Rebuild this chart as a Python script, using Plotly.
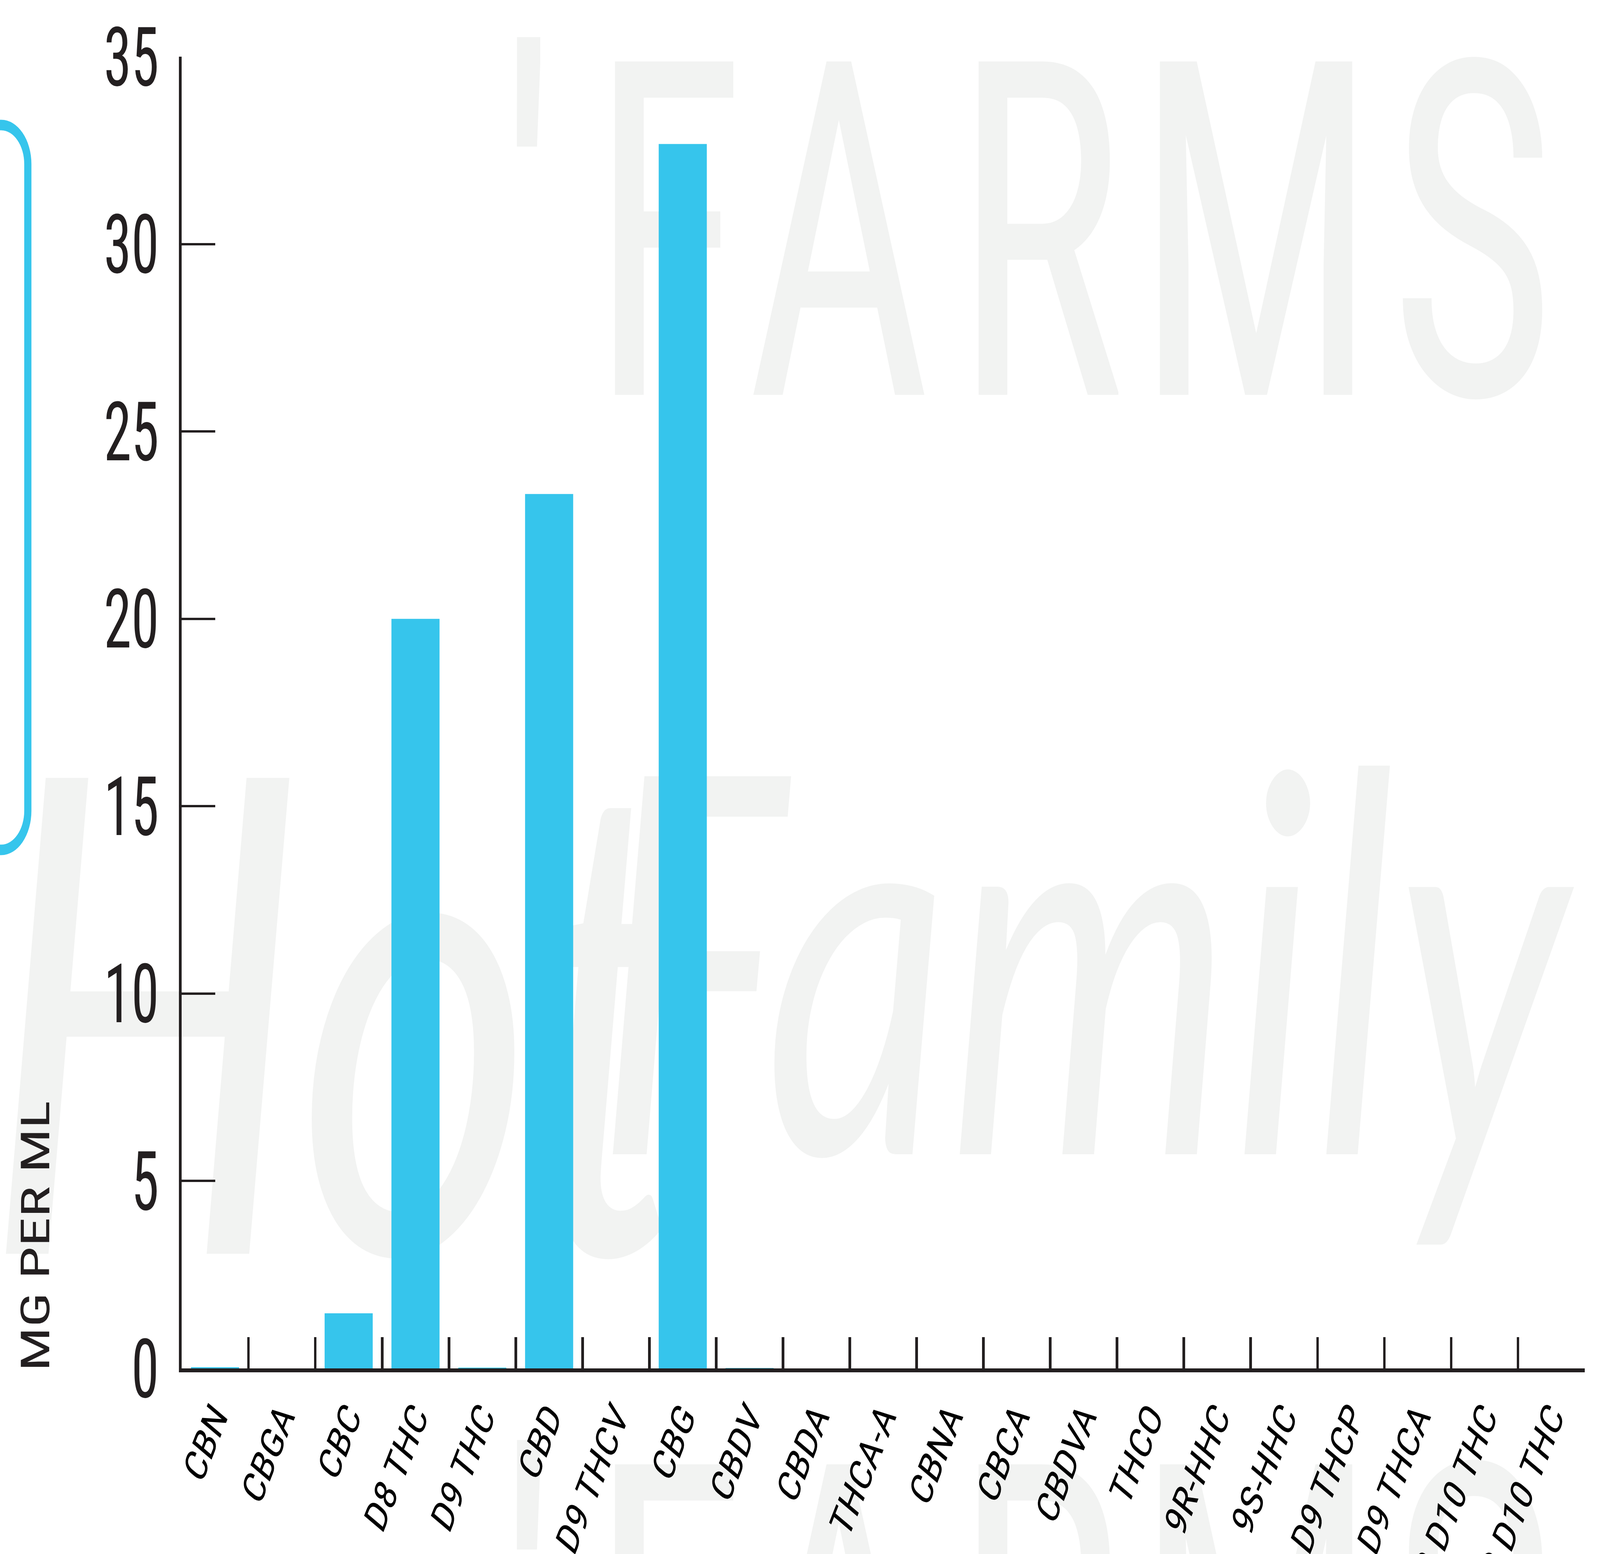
import plotly.graph_objects as go

# ---------------- data ----------------
categories = ["CBN", "CBGA", "CBC", "D8 THC", "D9 THC", "CBD", "D9 THCV", "CBG",
              "CBDV", "CBDA", "THCA-A", "CBNA", "CBCA", "CBDVA", "THCO", "9R-HHC",
              "9S-HHC", "D9 THCP", "D9 THCA", "R D10 THC", "S D10 THC"]
mg_per_ml = [0.03, 0, 1.47, 20.0, 0.012, 23.33, 0, 32.67,
             0.006, 0, 0, 0, 0, 0, 0, 0,
             0, 0, 0, 0, 0]
y_tick_values = [0, 5, 10, 15, 20, 25, 30, 35]
y_title = "MG PER ML"
watermark_top = ["'", "F", "A", "R", "M", "S"]
watermark_script = ["Hot", "Family"]

# ---------------- geometry (pixels of the 6008 x 3977 design) ----------------
W_PX, H_PX = 6008, 3977
L, R, T, B = 682, 5951, 145, 3502
PW, PH = R - L, B - T
S = 6008 / 1568.0  # thumbnail -> full scale


def px(x):
    return (x - L) / PW


def py(y):
    return (B - y) / PH


AXIS = "#231f20"
BLUE = "#36c5ec"
WM = "#f2f3f2"
FONT = ("Roboto Condensed, Liberation Sans Narrow, DejaVu Sans Condensed, "
        "Arial Narrow, Open Sans Condensed, Roboto, sans-serif")

fig = go.Figure()
fig.add_trace(go.Bar(
    x=categories, y=mg_per_ml, width=0.72,
    marker=dict(color=BLUE, line=dict(width=0)),
    hoverinfo="x+y",
))

shapes = []

# watermark letters (top row and bottom row)
letter_cx = [518, 654, 822, 1018, 1231, 1443]
for txt, cx in zip(watermark_top, letter_cx):
    for base in (248, 1185):
        cy = (base - 114) if txt != "'" else (base - 118)
        x0, x1 = cx * S - 300, cx * S + 300
        y0, y1 = cy * S - 300, cy * S + 300
        shapes.append(dict(
            type="rect", xref="paper", yref="paper", layer="below",
            x0=px(x0), x1=px(x1), y0=py(y1), y1=py(y0),
            line=dict(width=0), fillcolor="rgba(0,0,0,0)",
            label=dict(text=txt, textposition="middle center",
                       font=dict(family=FONT, size=1200, color=WM)),
        ))

# script watermark
for txt, (cx, cy), size in zip(watermark_script, [(330, 660), (1060, 630)], [1700, 1350]):
    shapes.append(dict(
        type="rect", xref="paper", yref="paper", layer="below",
        x0=px(cx * S - 400), x1=px(cx * S + 400),
        y0=py(cy * S + 400), y1=py(cy * S - 400),
        line=dict(width=0), fillcolor="rgba(0,0,0,0)",
        label=dict(text=txt, textposition="middle center",
                   font=dict(family="Lato, Open Sans, sans-serif", size=size,
                             color=WM, style="italic")),
    ))

# blue rounded bracket at the left edge
xc, yt, yb, r = 104.5, 320, 2175, 100
path = (f"M {px(-80)},{py(yt)} L {px(xc - r)},{py(yt)} "
        f"C {px(xc - r * 0.45)},{py(yt)} {px(xc)},{py(yt + r * 0.45)} {px(xc)},{py(yt + r)} "
        f"L {px(xc)},{py(yb - r)} "
        f"C {px(xc)},{py(yb - r * 0.45)} {px(xc - r * 0.45)},{py(yb)} {px(xc - r)},{py(yb)} "
        f"L {px(-80)},{py(yb)}")
shapes.append(dict(type="path", xref="paper", yref="paper", layer="above",
                   path=path, line=dict(color=BLUE, width=27)))

fig.update_layout(
    width=W_PX, height=H_PX, autosize=False,
    margin=dict(l=L, r=W_PX - R, t=T, b=H_PX - B, pad=0, autoexpand=False),
    paper_bgcolor="white", plot_bgcolor="rgba(0,0,0,0)",
    showlegend=False,
    shapes=shapes,
    bargap=0.28,
    annotations=[dict(
        text=y_title, xref="paper", yref="paper",
        x=px(134), y=py(3512), xanchor="center", yanchor="bottom",
        textangle=-90, showarrow=False,
        font=dict(family=FONT, size=150, color=AXIS),
    )],
)

fig.update_xaxes(
    type="category", range=[-0.5, len(categories) - 0.5],
    showline=True, linecolor=AXIS, linewidth=10,
    ticks="inside", ticklen=80, tickwidth=10, tickcolor=AXIS,
    tickson="boundaries", tickangle=-60,
    tickfont=dict(family=FONT, size=118, color="black"),
    showgrid=False, zeroline=False, automargin=False, layer="below traces",
)
fig.update_yaxes(
    range=[0, 35], tickmode="array", tickvals=y_tick_values,
    showline=True, linecolor=AXIS, linewidth=10,
    ticks="inside", ticklen=126, tickwidth=6, tickcolor=AXIS,
    tickfont=dict(family=FONT, size=210, color=AXIS),
    ticklabelstandoff=33,
    showgrid=False, zeroline=False, automargin=False, layer="below traces",
)

# The figure is laid out at 6008 x 3977 design pixels and scaled to fill the window.
post = """
var gd = document.getElementById('{plot_id}');
var wrap = gd.parentElement;
document.documentElement.style.margin = '0';
document.body.style.margin = '0';
document.documentElement.style.overflow = 'hidden';
document.body.style.overflow = 'hidden';
wrap.style.position = 'fixed';
wrap.style.left = '0';
wrap.style.top = '0';
wrap.style.width = '100vw';
wrap.style.height = '100vh';
wrap.style.overflow = 'hidden';
gd.style.position = 'absolute';
gd.style.left = '0';
gd.style.top = '0';
gd.style.transformOrigin = '0 0';
function fitFigure() {
  var kx = window.innerWidth / 6008, ky = window.innerHeight / 3977;
  gd.style.transform = 'scale(' + kx + ',' + ky + ')';
}
fitFigure();
window.addEventListener('resize', fitFigure);
"""
fig.write_html("out.html", post_script=post,
               config={"displayModeBar": False, "responsive": False})
